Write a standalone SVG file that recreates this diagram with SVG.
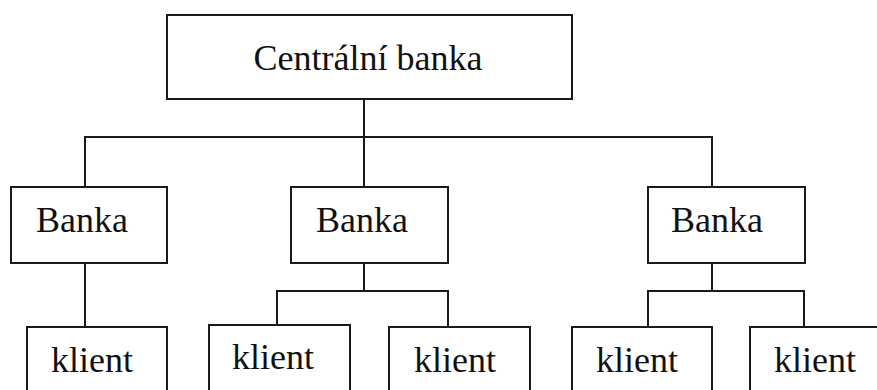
<svg xmlns="http://www.w3.org/2000/svg" width="877" height="390" viewBox="0 0 877 390">
<style>
.box{fill:#fff;stroke:#1a1a1a;stroke-width:2}
.ln{fill:none;stroke:#1a1a1a;stroke-width:2}
text{font-family:"Liberation Serif","Times New Roman",serif;font-size:36px;fill:#111}
</style>
<rect width="877" height="390" fill="#fff"/>
<g id="connectors">
<path class="ln" d="M364 99V187M85 187V137H712V187"/>
<path class="ln" d="M85 263V327"/>
<path class="ln" d="M364 263V291M277 325V291H448V327"/>
<path class="ln" d="M712 263V291M648 327V291H804V327"/>
</g>
<g id="central"><rect class="box" x="167" y="15" width="405" height="84"/><text x="368" y="70" text-anchor="middle">Centrální banka</text></g>
<g id="banka1"><rect class="box" x="11" y="187" width="156" height="76"/><text x="36" y="232">Banka</text></g>
<g id="banka2"><rect class="box" x="291" y="187" width="157" height="76"/><text x="316" y="232">Banka</text></g>
<g id="banka3"><rect class="box" x="648" y="187" width="157" height="76"/><text x="671" y="232">Banka</text></g>
<g id="klient1"><rect class="box" x="27" y="327" width="140" height="80"/><text x="51" y="372">klient</text></g>
<g id="klient2"><rect class="box" x="209" y="325" width="141" height="80"/><text x="232" y="369">klient</text></g>
<g id="klient3"><rect class="box" x="389" y="327" width="141" height="80"/><text x="414" y="372">klient</text></g>
<g id="klient4"><rect class="box" x="572" y="327" width="140" height="80"/><text x="596" y="372">klient</text></g>
<g id="klient5"><rect class="box" x="750" y="327" width="140" height="80"/><text x="774" y="372">klient</text></g>
</svg>
